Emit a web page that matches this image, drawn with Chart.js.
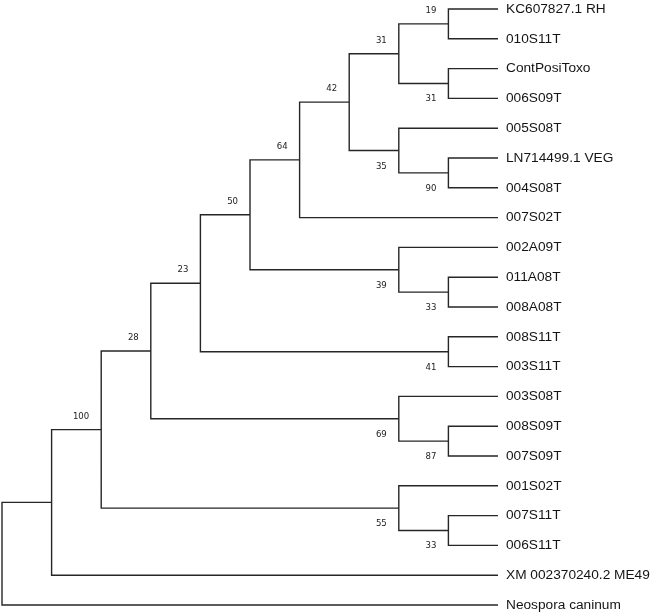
<!DOCTYPE html>
<html>
<head>
<meta charset="utf-8">
<script src="https://cdn.jsdelivr.net/npm/chart.js@4"></script>
<style>
  html, body { margin: 0; padding: 0; background: #fff; }
  #wrap { width: 652px; height: 614px; }
</style>
</head>
<body>
<div id="wrap"><canvas id="tree"></canvas></div>
<script>
// leaf order, top to bottom
const taxa = [
  "KC607827.1 RH", "010S11T", "ContPosiToxo", "006S09T", "005S08T",
  "LN714499.1 VEG", "004S08T", "007S02T", "002A09T", "011A08T",
  "008A08T", "008S11T", "003S11T", "003S08T", "008S09T",
  "007S09T", "001S02T", "007S11T", "006S11T", "XM 002370240.2 ME49",
  "Neospora caninum"
];

// internal nodes: children are taxa indexes (numbers) or other clade ids
const cladeIds = ["N", "O", "L", "P", "M", "K", "I", "Q", "J", "G",
                  "H", "E", "R", "F", "C", "S", "D", "B", "A", "root"];
const cladeKids = [
  [0, 1], [2, 3], ["N", "O"], [5, 6], [4, "P"], ["L", "M"], ["K", 7],
  [9, 10], [8, "Q"], ["I", "J"], [11, 12], ["G", "H"], [14, 15],
  [13, "R"], ["E", "F"], [17, 18], [16, "S"], ["C", "D"], ["B", 19], ["A", 20]
];
const bootstrap = [19, 31, 31, 90, 35, 42, 64, 33, 39, 50,
                   41, 23, 87, 69, 28, 33, 55, 100, null, null];

const kids = {};
const parentOf = {};
cladeIds.forEach((id, i) => {
  kids[id] = cladeKids[i];
  cladeKids[i].forEach((k) => { parentOf[k] = id; });
});

function height(n) {
  if (typeof n === "number") return 0;
  return 1 + Math.max(...kids[n].map(height));
}
function yOf(n) {
  if (typeof n === "number") return n;
  const k = kids[n];
  return (yOf(k[0]) + yOf(k[k.length - 1])) / 2;
}
const rootDepth = height("root");
const xOf = (n) => rootDepth - height(n);

// elbow path for each clade: child1 -> node -> node -> child2
const branches = [];
cladeIds.forEach((id) => {
  const [a, b] = kids[id];
  branches.push(
    { x: xOf(a), y: yOf(a) },
    { x: xOf(id), y: yOf(a) },
    { x: xOf(id), y: yOf(b) },
    { x: xOf(b), y: yOf(b) },
    { x: null, y: null }
  );
});

const supportLabels = {
  id: "supportLabels",
  afterDatasetsDraw(chart) {
    const { ctx, scales: { x, y } } = chart;
    ctx.save();
    ctx.font = "9.5px 'DejaVu Sans Condensed', 'DejaVu Sans', sans-serif";
    ctx.fillStyle = "#222";
    ctx.textAlign = "right";
    ctx.textBaseline = "middle";
    cladeIds.forEach((id, i) => {
      if (bootstrap[i] == null) return;
      const above = kids[parentOf[id]][0] === id;
      const px = x.getPixelForValue(xOf(id)) - 12;
      const py = y.getPixelForValue(yOf(id)) + (above ? -13.5 : 15.5);
      ctx.fillText(String(bootstrap[i]), px, py);
    });
    ctx.restore();
  }
};

new Chart(document.getElementById("tree"), {
  type: "scatter",
  data: {
    datasets: [{
      data: branches,
      showLine: true,
      spanGaps: false,
      borderColor: "#262626",
      borderWidth: 1.4,
      borderJoinStyle: "miter",
      pointRadius: 0,
      pointHoverRadius: 0,
      clip: false
    }]
  },
  options: {
    responsive: true,
    maintainAspectRatio: false,
    animation: false,
    layout: { padding: { left: 2, top: 9, bottom: 9, right: 0 } },
    plugins: {
      legend: { display: false },
      tooltip: { enabled: false }
    },
    scales: {
      x: {
        type: "linear",
        min: 0,
        max: rootDepth,
        display: false
      },
      y: {
        type: "linear",
        position: "right",
        reverse: true,
        min: 0,
        max: taxa.length - 1,
        grid: { display: false, drawTicks: false },
        border: { display: false },
        afterFit: (scale) => {
          scale.width = 154;
          scale.paddingTop = 0;
          scale.paddingBottom = 0;
        },
        ticks: {
          stepSize: 1,
          autoSkip: false,
          padding: 8,
          color: "#141414",
          font: { family: "'Liberation Sans', Arial, sans-serif", size: 13.7 },
          callback: (v) => taxa[v] ?? ""
        }
      }
    }
  },
  plugins: [supportLabels]
});
</script>
</body>
</html>
